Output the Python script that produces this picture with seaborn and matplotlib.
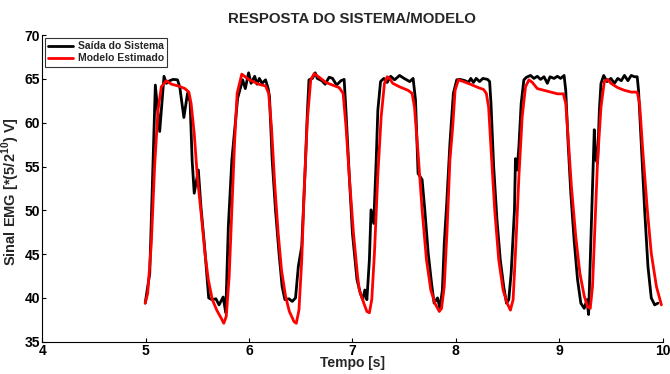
import matplotlib
matplotlib.use('Agg')
import matplotlib.pyplot as plt
import seaborn as sns

# Saida do sistema (black) - time [s] and EMG signal
t_sistema = [4.996, 5.04, 5.094, 5.136, 5.178, 5.20, 5.233, 5.266, 5.308, 5.33,
             5.37, 5.405, 5.43, 5.45, 5.47, 5.51, 5.535, 5.57, 5.61, 5.64,
             5.68, 5.71, 5.75, 5.775, 5.80, 5.834, 5.89, 5.938, 5.964, 5.996,
             6.02, 6.055, 6.077, 6.10, 6.126, 6.16, 6.185, 6.198, 6.224, 6.256,
             6.29, 6.32, 6.347, 6.386, 6.418, 6.45, 6.477, 6.51, 6.54, 6.564,
             6.58, 6.613, 6.64, 6.66, 6.704, 6.736, 6.775, 6.808, 6.847, 6.889,
             6.92, 6.937, 6.97, 7.0, 7.044, 7.077, 7.1, 7.12, 7.14, 7.164,
             7.18, 7.206, 7.23, 7.246, 7.272, 7.304, 7.336, 7.37, 7.408, 7.456,
             7.5, 7.554, 7.587, 7.61, 7.635, 7.674, 7.7, 7.733, 7.765, 7.79,
             7.823, 7.846, 7.87, 7.888, 7.91, 7.943, 7.976, 8.009, 8.04, 8.09,
             8.122, 8.145, 8.17, 8.197, 8.23, 8.262, 8.307, 8.327, 8.34, 8.366,
             8.398, 8.43, 8.463, 8.49, 8.512, 8.535, 8.567, 8.577, 8.593, 8.61,
             8.632, 8.658, 8.684, 8.723, 8.755, 8.788, 8.82, 8.853, 8.885, 8.911,
             8.95, 8.982, 9.014, 9.047, 9.063, 9.086, 9.112, 9.144, 9.177, 9.209,
             9.242, 9.268, 9.284, 9.30, 9.322, 9.339, 9.355, 9.371, 9.388, 9.404,
             9.43, 9.462, 9.50, 9.534, 9.566, 9.60, 9.631, 9.664, 9.696, 9.728,
             9.754, 9.767, 9.793, 9.826, 9.858, 9.89, 9.923, 9.955]
y_sistema = [39.4, 42.8, 64.3, 59.0, 65.3, 64.5, 64.8, 64.95, 64.9, 64.1,
             60.6, 63.35, 62.4, 55.7, 51.95, 54.6, 50.4, 45.9, 40.0, 39.8,
             39.9, 39.2, 40.1, 38.3, 48.15, 55.75, 62.8, 64.9, 63.9, 65.7,
             64.5, 65.3, 64.4, 65.06, 64.5, 64.9, 63.9, 63.0, 55.75, 50.05,
             45.1, 41.3, 39.8, 39.9, 39.6, 40.0, 43.6, 45.9, 53.85, 61.1,
             64.9, 65.06, 65.7, 65.06, 64.8, 64.4, 65.2, 65.06, 64.3, 64.8,
             64.95, 61.45, 53.85, 47.4, 42.1, 40.5, 39.8, 40.9, 39.8, 44.35,
             50.05, 48.5, 55.75, 61.45, 64.7, 65.06, 64.6, 65.3, 64.9, 65.4,
             65.06, 64.7, 65.06, 62.6, 54.2, 53.5, 50.05, 45.1, 41.7, 39.4,
             40.0, 38.8, 40.9, 46.2, 50.4, 57.65, 63.35, 64.9, 64.95, 64.8,
             64.6, 65.06, 64.6, 65.06, 64.7, 65.06, 64.95, 64.7, 62.2, 55.0,
             48.9, 44.35, 41.3, 39.4, 39.8, 42.8, 50.05, 55.9, 54.6, 57.3,
             62.2, 64.9, 65.2, 65.4, 65.06, 65.3, 64.95, 65.25, 64.5, 65.25,
             65.06, 65.3, 65.06, 65.4, 63.7, 57.65, 51.95, 46.6, 42.1, 39.4,
             38.8, 39.8, 38.1, 44.35, 52.7, 59.2, 55.75, 55.4, 61.45, 64.5,
             65.4, 64.7, 65.06, 64.5, 65.06, 64.8, 65.4, 64.8, 65.4, 65.25,
             65.25, 63.7, 57.65, 50.05, 43.6, 40.0, 39.2, 39.4]

# Modelo estimado (red)
t_modelo = [4.996, 5.02, 5.055, 5.087, 5.12, 5.152, 5.20, 5.25, 5.315, 5.38,
            5.418, 5.44, 5.47, 5.50, 5.54, 5.574, 5.606, 5.645, 5.688, 5.73,
            5.756, 5.78, 5.808, 5.834, 5.86, 5.885, 5.93, 5.996, 6.094, 6.16,
            6.19, 6.217, 6.25, 6.282, 6.314, 6.353, 6.39, 6.435, 6.457, 6.483,
            6.51, 6.535, 6.564, 6.597, 6.63, 6.678, 6.743, 6.808, 6.873, 6.91,
            6.938, 6.97, 7.01, 7.05, 7.067, 7.11, 7.14, 7.164, 7.187, 7.213,
            7.245, 7.278, 7.31, 7.336, 7.36, 7.39, 7.456, 7.538, 7.577, 7.60,
            7.635, 7.674, 7.716, 7.758, 7.797, 7.84, 7.862, 7.888, 7.914, 7.943,
            7.97, 7.993, 8.025, 8.074, 8.14, 8.22, 8.268, 8.295, 8.317, 8.343,
            8.376, 8.415, 8.457, 8.496, 8.528, 8.554, 8.58, 8.61, 8.642, 8.674,
            8.707, 8.74, 8.788, 8.853, 8.918, 8.983, 9.04, 9.063, 9.086, 9.118,
            9.16, 9.20, 9.242, 9.274, 9.30, 9.322, 9.345, 9.371, 9.404, 9.436,
            9.469, 9.50, 9.566, 9.631, 9.696, 9.754, 9.777, 9.81, 9.852, 9.89,
            9.94, 9.988]
y_modelo = [39.4, 40.5, 46.2, 55.0, 61.45, 64.1, 64.8, 64.4, 64.2, 63.9,
            63.5, 62.2, 58.8, 53.85, 49.3, 45.1, 42.1, 39.8, 38.6, 37.7,
            37.1, 37.9, 42.45, 50.05, 57.65, 63.35, 65.55, 64.95, 64.4, 64.2,
            63.35, 59.55, 52.7, 47.4, 43.2, 40.2, 38.45, 37.3, 37.1, 38.6,
            44.35, 52.7, 60.3, 64.9, 65.6, 65.2, 64.6, 64.3, 64.0, 63.35,
            59.55, 53.85, 47.4, 42.45, 40.9, 39.4, 38.45, 38.3, 39.8, 45.1,
            53.85, 60.7, 64.5, 65.25, 65.06, 64.5, 64.1, 63.7, 63.35, 61.8,
            56.5, 50.05, 44.35, 40.9, 39.4, 38.45, 38.8, 41.3, 47.4, 55.75,
            59.55, 63.7, 64.9, 64.7, 64.4, 64.0, 63.8, 63.35, 61.8, 56.5,
            50.05, 44.35, 40.9, 39.4, 38.6, 39.8, 45.9, 53.85, 60.7, 64.1,
            64.9, 64.6, 63.9, 63.7, 63.5, 63.3, 63.3, 62.2, 58.4, 52.7,
            47.0, 42.8, 40.2, 39.0, 38.8, 41.3, 48.15, 55.75, 61.8, 64.7,
            64.95, 64.5, 64.0, 63.7, 63.5, 63.5, 62.2, 56.5, 50.05, 45.1,
            41.3, 39.2]

x_ticks = [4, 5, 6, 7, 8, 9, 10]
y_ticks = [35, 40, 45, 50, 55, 60, 65, 70]

sns.set_style('white')
plt.rcParams['font.family'] = ['Liberation Sans', 'DejaVu Sans']
plt.rcParams['font.weight'] = 'bold'
plt.rcParams['mathtext.fontset'] = 'custom'
plt.rcParams['mathtext.rm'] = 'Liberation Sans:bold'
plt.rcParams['mathtext.bf'] = 'Liberation Sans:bold'

fig = plt.figure(figsize=(6.7, 3.74), dpi=100)
ax = fig.add_axes([0.063, 0.0864, 0.926, 0.8196])

sns.lineplot(x=t_sistema, y=y_sistema, color='black', linewidth=2.0,
             label='Saída do Sistema', estimator=None, ax=ax)
sns.lineplot(x=t_modelo, y=y_modelo, color='red', linewidth=2.0,
             label='Modelo Estimado', estimator=None, ax=ax)

ax.set_xlim(4, 10)
ax.set_ylim(35, 70)
ax.set_xticks(x_ticks)
ax.set_yticks(y_ticks)
ax.tick_params(direction='in', length=3, width=0.8, labelsize=10, pad=1.5,
               left=True, bottom=True, colors='black')
for lbl in ax.get_xticklabels() + ax.get_yticklabels():
    lbl.set_fontweight('bold')
for side in ['top', 'right']:
    ax.spines[side].set_visible(False)
for side in ['left', 'bottom']:
    ax.spines[side].set_color('black')
    ax.spines[side].set_linewidth(0.8)

ax.set_title('RESPOSTA DO SISTEMA/MODELO', fontsize=10.8, fontweight='bold', pad=9)
ax.set_xlabel('Tempo [s]', fontsize=10, fontweight='bold', labelpad=-1)
ax.set_ylabel('Sinal EMG [*(5/2$^{10}$) V]', fontsize=10.5, fontweight='bold')
ax.yaxis.set_label_coords(-0.033, 0.49)

leg = ax.legend(loc='upper left', fontsize=7.5, frameon=True, fancybox=False,
                borderaxespad=0.3, handlelength=2.4, borderpad=0.3,
                labelspacing=0.2, handletextpad=0.4)
leg.get_frame().set_edgecolor('black')
leg.get_frame().set_linewidth(0.8)
for txt in leg.get_texts():
    txt.set_fontweight('bold')

fig.savefig('out.png', dpi=100)
